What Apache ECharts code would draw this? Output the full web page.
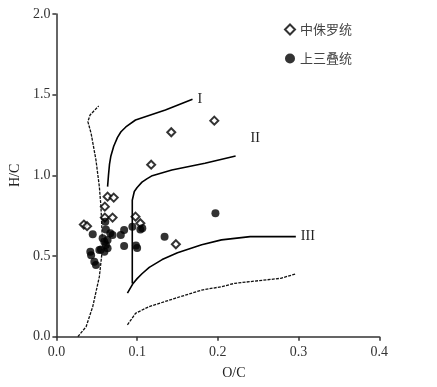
<!DOCTYPE html>
<html><head><meta charset="utf-8">
<script src="https://cdn.jsdelivr.net/npm/echarts@6/dist/echarts.min.js"></script>
<style>html,body{margin:0;padding:0;background:#fff}#c{width:437px;height:387px}</style>
</head><body><div id="c"></div>
<script>
const xTicks = [0, 0.1, 0.2, 0.3, 0.4];
const yTicks = [0, 0.5, 1.0, 1.5, 2.0];
const seriesNames = ['中侏罗统', '上三叠统'];
const jurassic = [[0.034,0.695],[0.038,0.685],[0.0634,0.868],[0.071,0.862],[0.060,0.806],[0.060,0.738],[0.0696,0.738],[0.098,0.744],[0.104,0.703],[0.148,0.573],[0.1174,1.066],[0.1423,1.267],[0.1956,1.339]];
const triassic = [[0.045,0.635],[0.042,0.527],[0.043,0.505],[0.047,0.465],[0.049,0.444],[0.0532,0.537],[0.0552,0.54],[0.0573,0.61],[0.0594,0.589],[0.0613,0.568],[0.0594,0.527],[0.0634,0.548],[0.0606,0.713],[0.0613,0.665],[0.0668,0.641],[0.0696,0.63],[0.0798,0.63],[0.0839,0.661],[0.0941,0.682],[0.0839,0.562],[0.0985,0.565],[0.1,0.55],[0.1064,0.672],[0.104,0.665],[0.134,0.62],[0.197,0.765],[0.0634,0.60]];
const curveI = [[0.0634,0.93],[0.0645,1.0],[0.0658,1.07],[0.0675,1.12],[0.071,1.18],[0.0757,1.235],[0.080,1.27],[0.086,1.30],[0.098,1.343],[0.135,1.405],[0.1686,1.471]];
const curveII = [[0.094,0.33],[0.094,0.846],[0.0965,0.90],[0.100,0.925],[0.106,0.958],[0.112,0.978],[0.1187,0.998],[0.143,1.033],[0.184,1.075],[0.222,1.12]];
const curveIII = [[0.088,0.27],[0.095,0.33],[0.100,0.36],[0.106,0.39],[0.115,0.43],[0.131,0.478],[0.15,0.52],[0.18,0.57],[0.2045,0.60],[0.24,0.62],[0.2966,0.62]];
const boundLeft = [[0.0266,0],[0.0368,0.062],[0.045,0.186],[0.0532,0.372],[0.0573,0.558],[0.0552,0.806],[0.0532,0.93],[0.049,1.095],[0.043,1.26],[0.039,1.333],[0.0417,1.374],[0.0524,1.43]];
const boundBottom = [[0.088,0.073],[0.098,0.145],[0.1146,0.186],[0.147,0.238],[0.18,0.289],[0.2045,0.31],[0.221,0.331],[0.278,0.362],[0.2966,0.389]];
const curveLabels = ['I', 'II', 'III'];

const serif = '"Liberation Serif", "Times New Roman", serif';
const chart = echarts.init(document.getElementById('c'), null, {renderer: 'canvas'});
function curve(data, label, offset) {
  return {
    type: 'line', data: data, showSymbol: false, symbol: 'none', silent: true,
    lineStyle: {color: '#000', width: 1.6},
    endLabel: label ? {show: true, formatter: label, distance: 5, offset: offset || [0, 0],
      fontFamily: serif, fontSize: 14, color: '#222'} : {show: false}
  };
}
function dashed(data) {
  return {type: 'line', data: data, showSymbol: false, symbol: 'none', silent: true,
    lineStyle: {color: '#111', width: 1.3, type: [3, 1.2]}};
}
chart.setOption({
  animation: false,
  grid: {left: 53.3, right: 57.7, top: 14, bottom: 50.3},
  legend: {
    data: seriesNames, orient: 'vertical', left: 279, top: 18, itemGap: 16,
    itemWidth: 10, itemHeight: 10, itemTextGap: 3,
    textStyle: {fontFamily: '"Noto Sans CJK SC", sans-serif', fontSize: 13, color: '#444'}
  },
  xAxis: {
    type: 'value', min: 0, max: 0.4, interval: 0.1,
    name: 'O/C', nameLocation: 'middle', nameGap: 30,
    nameTextStyle: {fontFamily: serif, fontSize: 14, color: '#222', padding: [0, 0, 0, 32]},
    axisLine: {lineStyle: {color: '#333', width: 1.5}},
    axisTick: {show: true, length: 4, lineStyle: {color: '#333', width: 1.5}},
    axisLabel: {fontFamily: serif, fontSize: 14, color: '#333', margin: 9,
      formatter: v => v.toFixed(1)},
    splitLine: {show: false}
  },
  yAxis: {
    type: 'value', min: 0, max: 2, interval: 0.5,
    name: 'H/C', nameLocation: 'middle', nameGap: 33,
    nameTextStyle: {fontFamily: serif, fontSize: 14, color: '#222'},
    axisLine: {show: true, lineStyle: {color: '#333', width: 1.5}},
    axisTick: {show: true, length: 4, lineStyle: {color: '#333', width: 1.5}},
    axisLabel: {fontFamily: serif, fontSize: 14, color: '#333', margin: 6,
      formatter: v => v.toFixed(1)},
    splitLine: {show: false}
  },
  series: [
    dashed(boundLeft), dashed(boundBottom),
    curve(curveI, curveLabels[0], [0, 0]),
    curve(curveII, curveLabels[1], [10, -18]),
    curve(curveIII, curveLabels[2], [0, 0]),
    {name: seriesNames[0], type: 'scatter', data: jurassic, symbol: 'diamond', symbolSize: 8,
      itemStyle: {color: '#fff', borderColor: '#000', borderWidth: 2}},
    {name: seriesNames[1], type: 'scatter', data: triassic, symbol: 'circle', symbolSize: 8,
      itemStyle: {color: '#000'}}
  ]
});
</script></body></html>
